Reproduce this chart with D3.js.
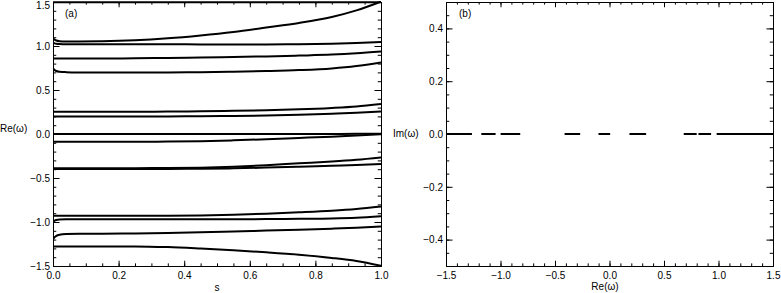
<!DOCTYPE html>
<html>
<head>
<meta charset="utf-8">
<script src="https://cdn.jsdelivr.net/npm/d3@7"></script>
<style>
  body { margin: 0; background: #fff; }
  svg { display: block; font-family: "Liberation Sans", Arial, sans-serif; font-size: 10px; }
</style>
</head>
<body>
<svg id="chart" width="781" height="293"></svg>
<script>
// s values shared by every branch of panel (a)
const sGrid = [0, 0.005, 0.01, 0.02, 0.04, 0.08, 0.15, 0.25, 0.35, 0.45, 0.55, 0.65, 0.75, 0.85, 0.925, 1.0];

// Re(omega) of each branch, one value per sGrid entry
const brTop = [1.496, 1.496, 1.496, 1.496, 1.496, 1.496, 1.496, 1.496, 1.496, 1.496, 1.496, 1.496, 1.496, 1.496, 1.496, 1.496];
const brA = [1.09, 1.072, 1.062, 1.055, 1.052, 1.051, 1.053, 1.064, 1.087, 1.12, 1.16, 1.21, 1.262, 1.33, 1.405, 1.505];
const brB = [1.04, 1.03, 1.025, 1.022, 1.02, 1.02, 1.02, 1.02, 1.02, 1.017, 1.016, 1.017, 1.02, 1.025, 1.033, 1.045];
const brC = [0.858, 0.858, 0.858, 0.858, 0.858, 0.858, 0.858, 0.86, 0.864, 0.869, 0.875, 0.882, 0.891, 0.902, 0.917, 0.938];
const brD = [0.75, 0.728, 0.716, 0.708, 0.703, 0.7, 0.699, 0.699, 0.7, 0.702, 0.707, 0.715, 0.726, 0.745, 0.772, 0.814];
const brE = [0.253, 0.253, 0.253, 0.253, 0.253, 0.253, 0.253, 0.253, 0.255, 0.258, 0.263, 0.27, 0.28, 0.296, 0.313, 0.341];
const brF = [0.2, 0.2, 0.2, 0.2, 0.2, 0.2, 0.2, 0.2, 0.2, 0.201, 0.205, 0.21, 0.218, 0.231, 0.242, 0.257];
const brG = [0, 0, 0, 0, 0, 0, 0, 0, 0, 0, 0, 0, 0, 0.001, 0.002, 0.004];
const brH = [-0.088, -0.088, -0.088, -0.088, -0.088, -0.088, -0.088, -0.088, -0.086, -0.081, -0.072, -0.06, -0.045, -0.03, -0.016, -0.003];
const brI1 = [-0.388, -0.388, -0.388, -0.388, -0.388, -0.388, -0.388, -0.388, -0.387, -0.383, -0.372, -0.355, -0.333, -0.312, -0.292, -0.266];
const brI2 = [-0.398, -0.398, -0.398, -0.398, -0.398, -0.398, -0.398, -0.398, -0.397, -0.395, -0.39, -0.382, -0.372, -0.36, -0.352, -0.341];
const brJ = [-0.93, -0.93, -0.93, -0.93, -0.93, -0.93, -0.93, -0.93, -0.929, -0.925, -0.917, -0.905, -0.89, -0.872, -0.852, -0.823];
const brK = [-1.0, -0.985, -0.977, -0.972, -0.97, -0.97, -0.97, -0.97, -0.97, -0.97, -0.969, -0.967, -0.964, -0.96, -0.952, -0.936];
const brL = [-1.2, -1.172, -1.158, -1.145, -1.137, -1.134, -1.133, -1.13, -1.125, -1.117, -1.108, -1.098, -1.088, -1.076, -1.065, -1.05];
const brM = [-1.277, -1.277, -1.277, -1.277, -1.277, -1.277, -1.277, -1.277, -1.285, -1.302, -1.322, -1.345, -1.372, -1.408, -1.443, -1.497];

const branches = [brTop, brA, brB, brC, brD, brE, brF, brG, brH, brI1, brI2, brJ, brK, brL, brM];

// panel (b): stretches of the real axis covered by eigenvalues (Im = 0)
const reSegments = [
  [-1.5, -1.262], [-1.176, -1.045], [-0.999, -0.819], [-0.412, -0.269],
  [-0.101, 0.006], [0.183, 0.336], [0.681, 0.8], [0.816, 0.932], [0.983, 1.5]
];

// tick values
const sMajor = [0, 0.2, 0.4, 0.6, 0.8, 1.0];
const sMinor = d3.range(0, 21).map(i => i * 0.05);
const reMajor = [-1.5, -1.0, -0.5, 0, 0.5, 1.0, 1.5];
const reMinorA = d3.range(-15, 16).map(i => i / 10);
const reMinorB = d3.range(-15, 16).map(i => i / 10);
const imMajor = [-0.4, -0.2, 0, 0.2, 0.4];
const imMinor = d3.range(-10, 11).map(i => i * 0.05);

const svg = d3.select('#chart');
const fmt = d3.format('.1f');

const xA = d3.scaleLinear().domain([0, 1]).range([53, 381]);
const yA = d3.scaleLinear().domain([-1.5, 1.5]).range([266, 2]);
const xB = d3.scaleLinear().domain([-1.5, 1.5]).range([446, 773]);
const yB = d3.scaleLinear().domain([-0.5, 0.5]).range([266, 2]);

// IDL-style box: inward ticks on all four sides, labels on left/bottom
function frame(x, y, xMaj, xMin, yMaj, yMin) {
  const [x0, x1] = x.range();
  const [y0, y1] = y.range();
  const xLen = 0.02 * (y0 - y1);
  const yLen = 0.02 * (x1 - x0);
  const g = svg.append('g');

  const put = (axis, tr) => {
    const a = g.append('g').attr('transform', tr).call(axis);
    a.attr('font-family', null).attr('font-size', null);
    a.selectAll('line').attr('stroke', '#000');
    a.select('.domain').attr('stroke', '#000');
    return a;
  };

  put(d3.axisBottom(x).tickValues(xMaj).tickSize(-xLen).tickSizeOuter(0).tickPadding(6).tickFormat(fmt), `translate(0,${y0})`);
  put(d3.axisBottom(x).tickValues(xMin).tickSize(-xLen / 2).tickSizeOuter(0).tickFormat(''), `translate(0,${y0})`);
  put(d3.axisTop(x).tickValues(xMaj).tickSize(-xLen).tickSizeOuter(0).tickFormat(''), `translate(0,${y1})`);
  put(d3.axisTop(x).tickValues(xMin).tickSize(-xLen / 2).tickSizeOuter(0).tickFormat(''), `translate(0,${y1})`);

  const yl = put(d3.axisLeft(y).tickValues(yMaj).tickSize(-yLen).tickSizeOuter(0).tickPadding(3).tickFormat(fmt), `translate(${x0},0)`);
  put(d3.axisLeft(y).tickValues(yMin).tickSize(-yLen / 2).tickSizeOuter(0).tickFormat(''), `translate(${x0},0)`);
  put(d3.axisRight(y).tickValues(yMaj).tickSize(-yLen).tickSizeOuter(0).tickFormat(''), `translate(${x1},0)`);
  put(d3.axisRight(y).tickValues(yMin).tickSize(-yLen / 2).tickSizeOuter(0).tickFormat(''), `translate(${x1},0)`);

  // a label sitting on the very top edge is nudged down so it stays readable
  yl.selectAll('.tick text')
    .filter(d => y(d) - y1 < 4)
    .attr('dy', '0.62em');

  g.selectAll('text').attr('fill', '#000');
  return g;
}

// ---------- panel (a)
svg.append('clipPath').attr('id', 'clipA')
  .append('rect')
  .attr('x', xA(0)).attr('y', yA(1.5) - 1)
  .attr('width', xA(1) - xA(0)).attr('height', yA(-1.5) - yA(1.5) + 2);

const line = d3.line()
  .x((v, i) => xA(sGrid[i]))
  .y(v => yA(v))
  .curve(d3.curveMonotoneX);

svg.append('g')
  .attr('clip-path', 'url(#clipA)')
  .selectAll('path')
  .data(branches)
  .join('path')
  .attr('d', line)
  .attr('fill', 'none')
  .attr('stroke', '#000')
  .attr('stroke-width', 2);

frame(xA, yA, sMajor, sMinor, reMajor, reMinorA);

svg.append('text').attr('x', 65).attr('y', 17).text('(a)');
svg.append('text').attr('x', 0).attr('y', 132).text('Re(ω)');
svg.append('text').attr('x', 217).attr('y', 291).attr('text-anchor', 'middle').text('s');

// ---------- panel (b)
svg.append('g')
  .selectAll('line')
  .data(reSegments)
  .join('line')
  .attr('x1', d => xB(d[0]))
  .attr('x2', d => xB(d[1]))
  .attr('y1', yB(0))
  .attr('y2', yB(0))
  .attr('stroke', '#000')
  .attr('stroke-width', 2);

frame(xB, yB, reMajor, reMinorB, imMajor, imMinor);

svg.append('text').attr('x', 459).attr('y', 17).text('(b)');
svg.append('text').attr('x', 393).attr('y', 137).text('Im(ω)');
svg.append('text').attr('x', 605).attr('y', 290).attr('text-anchor', 'middle').text('Re(ω)');
</script>
</body>
</html>
